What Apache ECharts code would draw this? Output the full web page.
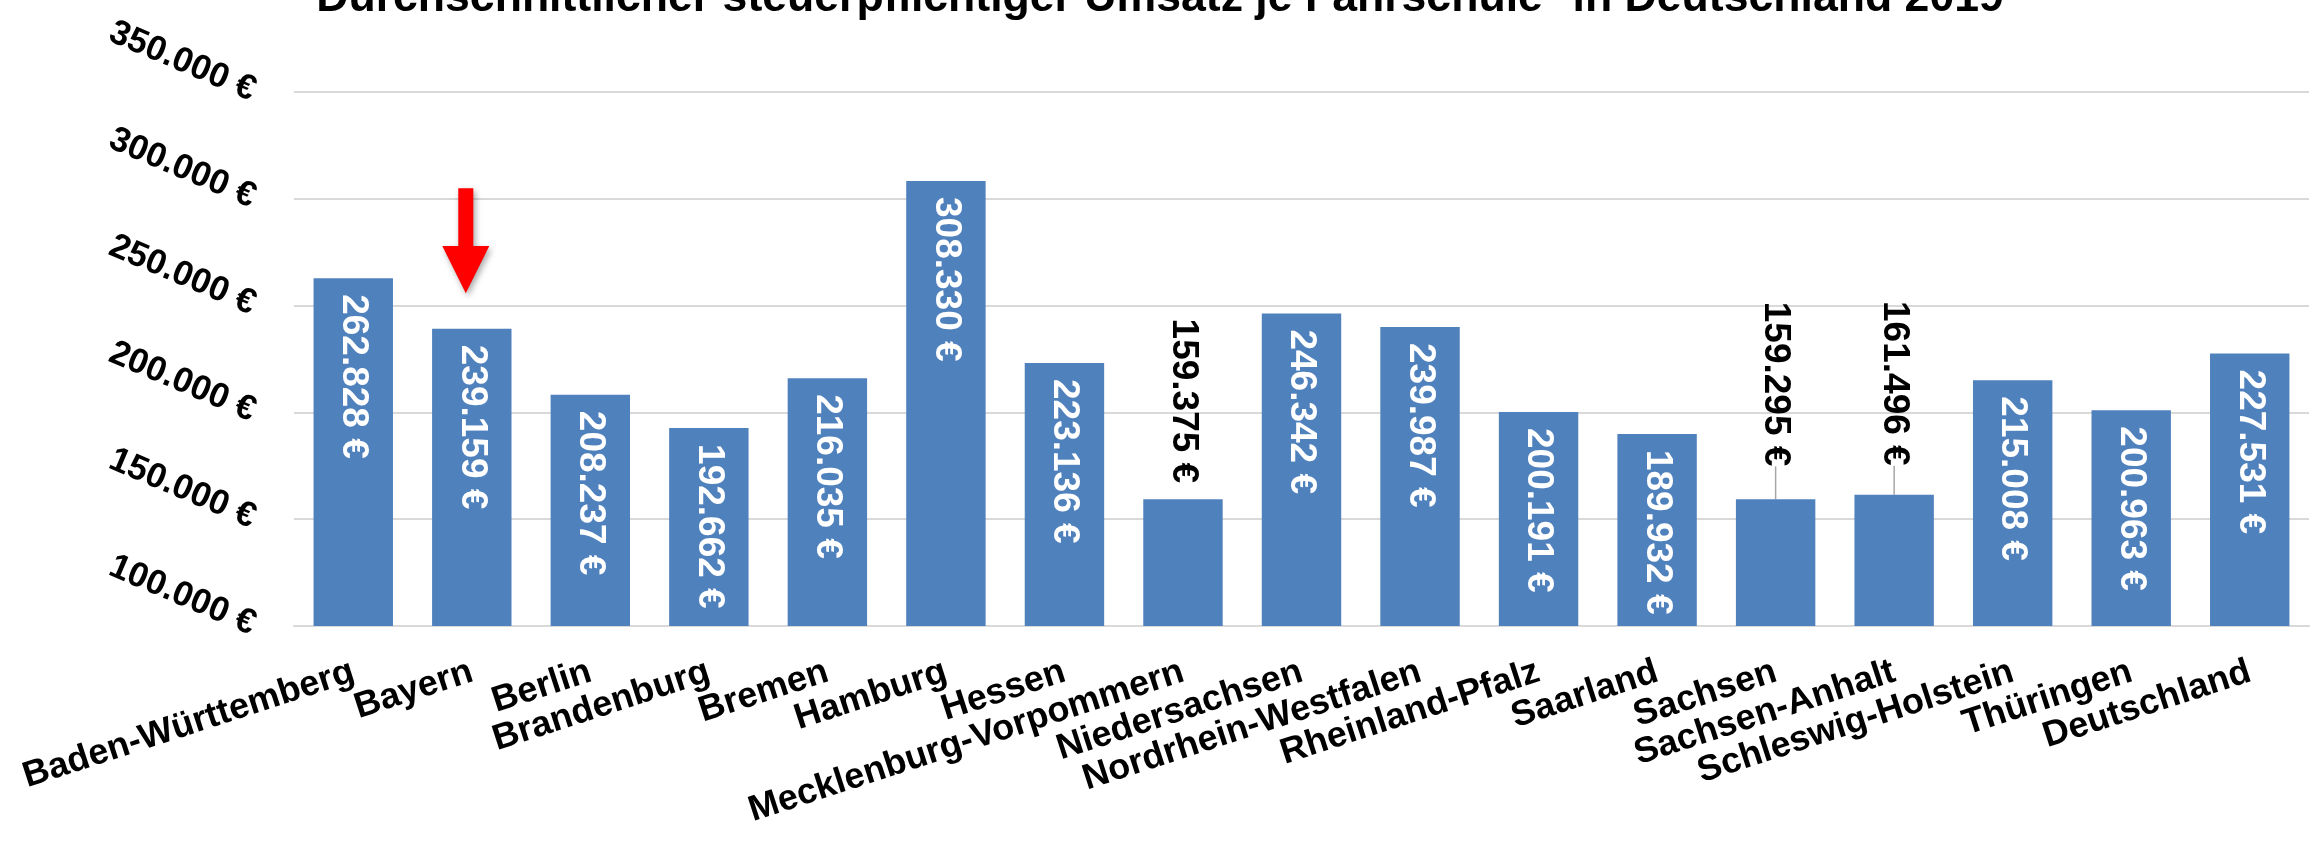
<!DOCTYPE html>
<html>
<head>
<meta charset="utf-8">
<script src="https://cdn.jsdelivr.net/npm/echarts@6/dist/echarts.min.js"></script>
<style>
  html, body { margin: 0; padding: 0; background: #fff; }
  #chart { width: 2320px; height: 845px; }
</style>
</head>
<body>
<div id="chart"></div>
<script>
const categories = [
  'Baden-Württemberg', 'Bayern', 'Berlin', 'Brandenburg', 'Bremen', 'Hamburg',
  'Hessen', 'Mecklenburg-Vorpommern', 'Niedersachsen', 'Nordrhein-Westfalen',
  'Rheinland-Pfalz', 'Saarland', 'Sachsen', 'Sachsen-Anhalt',
  'Schleswig-Holstein', 'Thüringen', 'Deutschland'
];
const revenue = [
  262828, 239159, 208237, 192662, 216035, 308330,
  223136, 159375, 246342, 239987,
  200191, 189932, 159295, 161496,
  215008, 200963, 227531
];
const yMin = 100000;
const yMax = 350000;
const yStep = 50000;

// labels that do not fit into their bar, and how far some of them were pulled up
const outsideLabels = ['Mecklenburg-Vorpommern', 'Sachsen', 'Sachsen-Anhalt'];
const labelShift = { 'Sachsen': -17, 'Sachsen-Anhalt': -13 };
const markedState = 'Bayern';

const FONT = 'Arial, "Liberation Sans", sans-serif';

function euro(v) {
  return String(v).replace(/\B(?=(\d{3})+(?!\d))/g, '.') + ' €';
}

const barData = categories.map((name, i) => {
  const item = { value: revenue[i] };
  if (outsideLabels.includes(name)) {
    // label is turned by -90°, so its own x axis points down the page
    item.label = {
      position: 'top',
      distance: 16,
      align: 'right',
      color: '#000',
      offset: [labelShift[name] || 0, 0]
    };
    if (labelShift[name]) {
      item.labelLine = { show: true, lineStyle: { color: '#a6a6a6', width: 1.5 } };
    }
  }
  return item;
});

const chart = echarts.init(document.getElementById('chart'));

chart.setOption({
  animation: false,
  backgroundColor: '#fff',
  title: {
    text: 'Durchschnittlicher steuerpflichtiger Umsatz je Fahrschule* in Deutschland 2019',
    left: 'center',
    top: -29,
    padding: [5, 5, 5, 37],
    textStyle: { fontFamily: FONT, fontSize: 44.6, fontWeight: 'bold', color: '#000' }
  },
  grid: {
    left: 294,
    right: 11,
    top: 92,
    bottom: 219,
    outerBoundsMode: 'none'
  },
  xAxis: {
    type: 'category',
    data: categories,
    axisLine: { lineStyle: { color: '#d9d9d9', width: 2 } },
    axisTick: { show: false },
    axisLabel: {
      interval: 0,
      rotate: 18,
      margin: 45,
      fontFamily: FONT,
      fontSize: 36,
      fontWeight: 'bold',
      color: '#000'
    }
  },
  yAxis: {
    type: 'value',
    min: yMin,
    max: yMax,
    interval: yStep,
    axisLine: { show: false },
    axisTick: { show: false },
    splitLine: { lineStyle: { color: '#d9d9d9', width: 2 } },
    axisLabel: {
      rotate: -23,
      margin: 40,
      padding: [0, 0, 26, 0],
      fontFamily: FONT,
      fontSize: 35,
      fontWeight: 'bold',
      color: '#000',
      formatter: euro
    }
  },
  series: [{
    type: 'bar',
    data: barData,
    barCategoryGap: '33%',
    itemStyle: { color: '#4f81bd' },
    label: {
      show: true,
      position: 'insideTop',
      distance: 16,
      rotate: -90,
      align: 'left',
      verticalAlign: 'middle',
      fontFamily: FONT,
      fontSize: 37,
      fontWeight: 'bold',
      color: '#fff',
      formatter: (p) => euro(p.value)
    },
    markPoint: {
      silent: true,
      label: { show: false },
      data: [{
        coord: [markedState, revenue[categories.indexOf(markedState)]],
        symbol: 'path://M34,0 L66,0 L66,55 L100,55 L50,100 L0,55 L34,55 Z',
        symbolSize: [47, 105],
        symbolOffset: [-6, -88],
        itemStyle: {
          color: '#ff0000',
          shadowColor: 'rgba(0,0,0,0.35)',
          shadowBlur: 6,
          shadowOffsetX: 2,
          shadowOffsetY: 3
        }
      }]
    }
  }]
});
</script>
</body>
</html>
